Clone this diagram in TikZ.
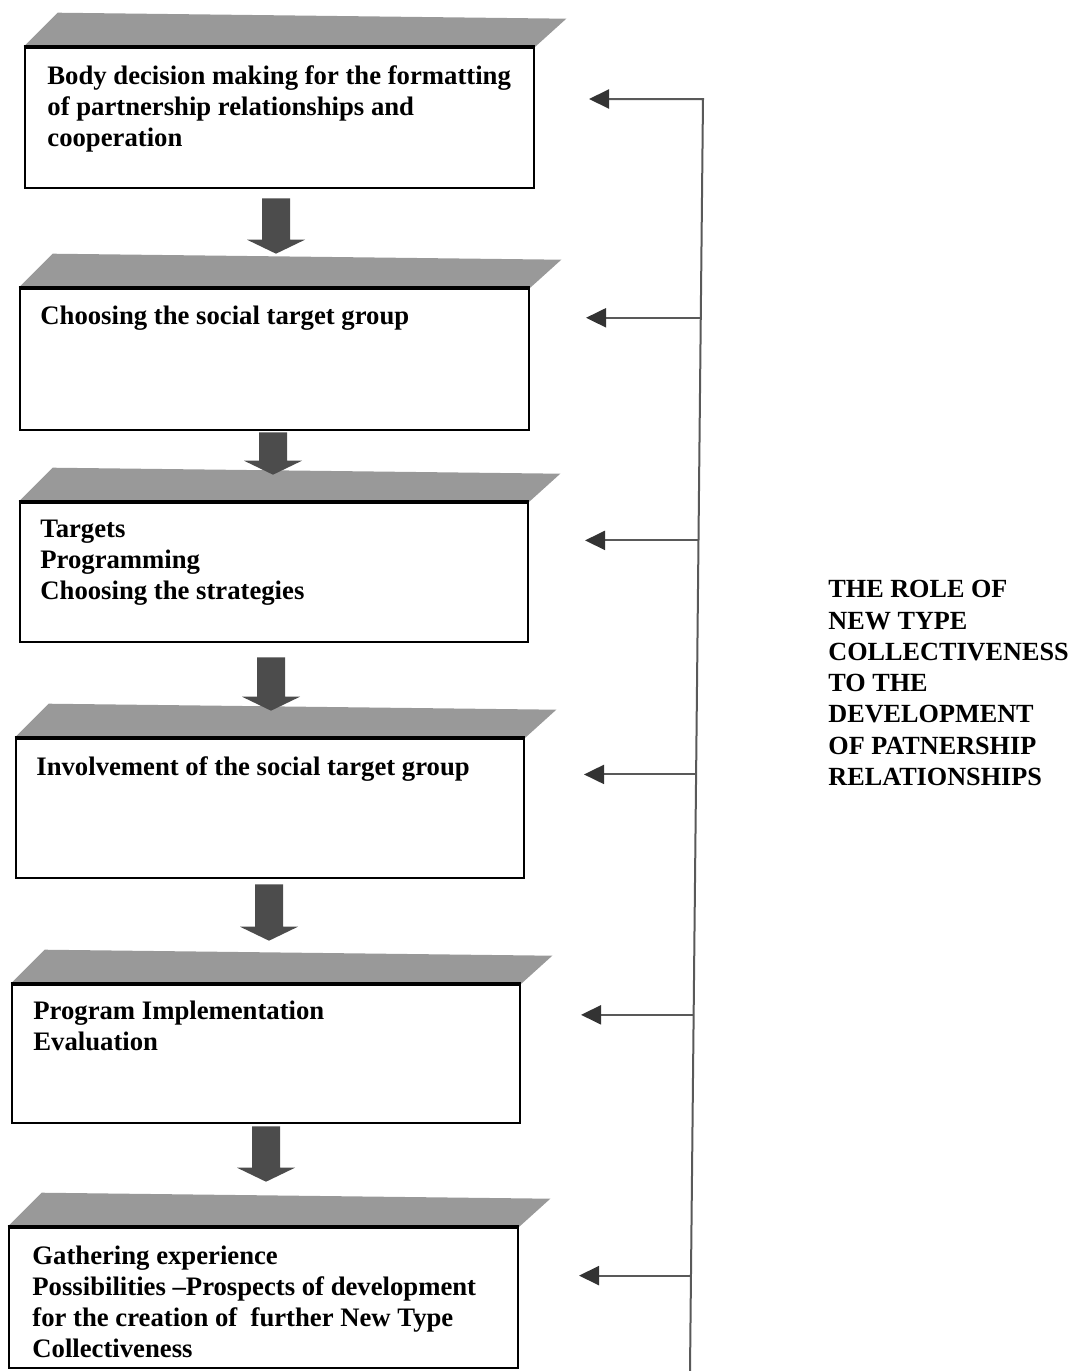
\documentclass[tikz,border=0pt]{standalone}
\usepackage{fontspec}
\setmainfont{Liberation Serif}
\usetikzlibrary{calc,arrows.meta,fit}
\begin{document}
\begin{tikzpicture}[x=0.5pt,y=-0.5pt,
  stepbox/.style={draw=black,line width=1.3pt,fill=white,inner sep=0pt},
  face/.style={fill=black!40},
  bigarrow/.style={fill=black!70},
  steptext/.style={anchor=north west,inner sep=0pt,align=left,
    font=\fontsize{13.35}{15.5}\selectfont\bfseries},
  titletext/.style={anchor=north west,inner sep=0pt,align=left,
    font=\fontsize{13.1}{15.65}\selectfont\bfseries},
  conn/.style={draw=black!65,line width=1pt},
  tipc/.style={-{Triangle[length=10pt,width=9.5pt,color=black!80,fill=black!80]}},
]
\useasboundingbox (0,0) rectangle (1072,1371);

% boxes
\node[stepbox,fit={(25,48) (534,188)}] (b1) {};
\node[stepbox,fit={(20,289) (529,430)}] (b2) {};
\node[stepbox,fit={(20,503) (528,642)}] (b3) {};
\node[stepbox,fit={(16,739) (524,878)}] (b4) {};
\node[stepbox,fit={(12,985) (520,1123)}] (b5) {};
\node[stepbox,fit={(9,1228) (518,1368)}] (b6) {};

% shaded top faces
\foreach \b in {b1,b2,b3,b4,b5,b6}{
  \fill[face] (\b.north west) -- ($(\b.north west)+(34,-34)$)
     -- ($(\b.north east)+(31,-28)$) -- (\b.north east) -- cycle;
  \draw[line width=1.3pt] (\b.north west) -- (\b.north east);
}

% texts
\node[steptext] (t1) at (47,65) {Body decision making for the formatting\\of partnership relationships and\\cooperation};
\node[steptext] (t2) at (40,306) {Choosing the social target group};
\node[steptext] (t3) at (40,520) {Targets\\Programming\\Choosing the strategies};
\node[steptext] (t4) at (36,756) {Involvement of the social target group};
\node[steptext] (t5) at (33,1001) {Program Implementation\\Evaluation};
\node[steptext] (t6) at (32,1246) {Gathering experience\\Possibilities –Prospects of development\\for the creation of\ \ further New Type\\Collectiveness};

\node[titletext] (title) at (828,580) {THE ROLE OF\\NEW TYPE\\COLLECTIVENESS\\TO THE\\DEVELOPMENT\\OF PATNERSHIP\\RELATIONSHIPS};

% big arrows between boxes
\coordinate (s1) at ($(b1.south)+(-3.5,9)$);
\coordinate (u1) at ($(b2.north)+(0,-34)$);
\coordinate (s2) at ($(b2.south)+(-1.5,1)$);
\coordinate (u2) at ($(b3.north)+(0,-27)$);
\coordinate (s3) at ($(b3.south)+(-3,14)$);
\coordinate (u3) at ($(b4.north)+(0,-27)$);
\coordinate (s4) at ($(b4.south)+(-1,5)$);
\coordinate (u4) at ($(b5.north)+(0,-43)$);
\coordinate (s5) at ($(b5.south)+(0,2)$);
\coordinate (u5) at ($(b6.north)+(0,-45)$);
\foreach \i in {1,...,5}{
  \coordinate (e\i) at (s\i |- u\i);
  \fill[bigarrow] ($(s\i)+(-14,0)$) -- ($(s\i)+(14,0)$) -- ($(e\i)+(14,-14)$)
    -- ($(e\i)+(29,-14)$) -- (e\i) -- ($(e\i)+(-29,-14)$) -- ($(e\i)+(-14,-14)$) -- cycle;
}

% feedback connector on the right
\coordinate (vtop) at (703,99);
\coordinate (vbot) at (690,1371);
\coordinate (r1) at (589,99);
\draw[conn,tipc] (vbot) -- (vtop) -- (r1);
\coordinate (j2) at ($(vtop)!0.172!(vbot)$);
\coordinate (r2) at (586,318);
\coordinate (j3) at ($(vtop)!0.347!(vbot)$);
\coordinate (r3) at (585,540);
\coordinate (j4) at ($(vtop)!0.531!(vbot)$);
\coordinate (r4) at (584,775);
\coordinate (j5) at ($(vtop)!0.720!(vbot)$);
\coordinate (r5) at (581,1015);
\coordinate (j6) at ($(vtop)!0.925!(vbot)$);
\coordinate (r6) at (579,1276);
\foreach \i in {2,...,6}{
  \draw[conn,tipc] (j\i) -- (r\i |- j\i);
}
\end{tikzpicture}
\end{document}
